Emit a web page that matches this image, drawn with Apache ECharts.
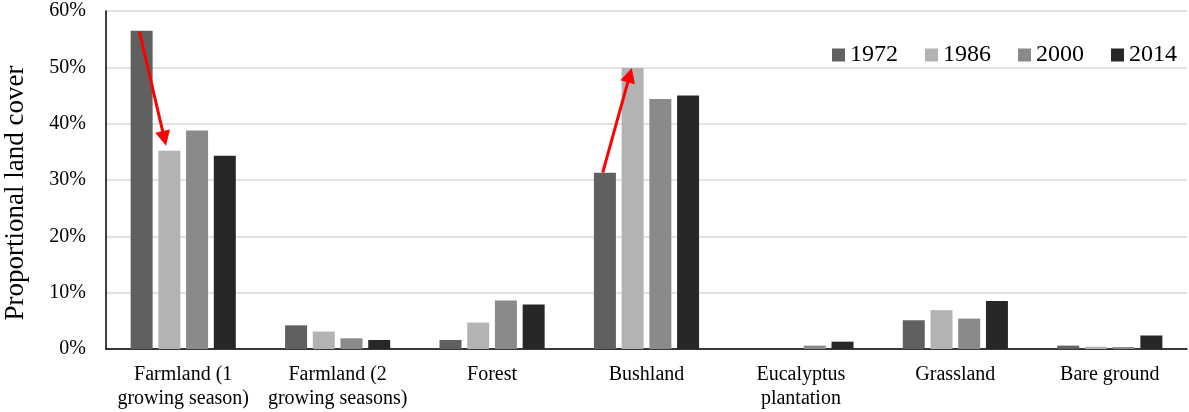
<!DOCTYPE html>
<html>
<head>
<meta charset="utf-8">
<script src="https://cdn.jsdelivr.net/npm/echarts@6/dist/echarts.min.js"></script>
<style>
  html, body { margin: 0; padding: 0; background: #fff; }
  #chart { width: 1189px; height: 412px; }
</style>
</head>
<body>
<div id="chart"></div>
<script>
// ---- data ----
const categories = [
  'Farmland (1\ngrowing season)',
  'Farmland (2\ngrowing seasons)',
  'Forest',
  'Bushland',
  'Eucalyptus\nplantation',
  'Grassland',
  'Bare ground'
];
const seriesNames = ['1972', '1986', '2000', '2014'];
const values1972 = [56.5, 4.2, 1.6, 31.3, 0, 5.1, 0.6];
const values1986 = [35.2, 3.1, 4.7, 49.9, 0, 6.9, 0.4];
const values2000 = [38.8, 1.9, 8.6, 44.4, 0.6, 5.4, 0.35];
const values2014 = [34.3, 1.6, 7.9, 45.0, 1.3, 8.5, 2.4];
const yTicks = [0, 10, 20, 30, 40, 50, 60];
const yAxisTitle = 'Proportional land cover';
// arrows: from [category, series] to [category, series]
const arrowLinks = [
  { from: [0, 0], to: [0, 1] },
  { from: [3, 0], to: [3, 1] }
];

// ---- styles ----
const FONT = "'Liberation Serif', 'Times New Roman', serif";
const colors = ['#606060', '#b3b3b3', '#8a8a8a', '#272727'];
const arrowStyle = [
  { fromFrac: 0.4, fromDy: 1, toFrac: 0.35, toDy: -5 },
  { fromFrac: 0.4, fromDy: 0, toFrac: 0.46, toDy: 0 }
];

const allValues = [values1972, values1986, values2000, values2014];
const chart = echarts.init(document.getElementById('chart'), null, { renderer: 'canvas' });

const option = {
  animation: false,
  backgroundColor: '#ffffff',
  color: colors,
  grid: { left: 106, right: 2, top: 11, bottom: 63 },
  legend: {
    data: seriesNames, right: 7, top: 38, itemWidth: 13, itemHeight: 13, itemGap: 27, icon: 'rect',
    textStyle: { fontFamily: FONT, fontSize: 24, color: '#000' }
  },
  xAxis: {
    type: 'category', data: categories,
    axisLine: { show: true, lineStyle: { color: '#000', width: 1.5 } },
    axisTick: { show: false },
    axisLabel: { interval: 0, margin: 14, fontFamily: FONT, fontSize: 20, lineHeight: 23.5, color: '#000' },
    splitLine: { show: false }
  },
  yAxis: {
    type: 'value', min: yTicks[0], max: yTicks[yTicks.length - 1], interval: yTicks[1] - yTicks[0],
    axisLine: { show: true, lineStyle: { color: '#000', width: 1.5 } },
    axisTick: { show: false },
    axisLabel: { margin: 20, fontFamily: FONT, fontSize: 20, color: '#000', formatter: '{value}%' },
    splitLine: { show: true, lineStyle: { color: '#d9d9d9', width: 1.5 } }
  },
  series: seriesNames.map((name, i) => ({
    name: name, type: 'bar', data: allValues[i], barWidth: 22, barGap: '26%', itemStyle: { color: colors[i] }
  }))
};
chart.setOption(option);

// ---- arrows drawn from the bars' own layout ----
function barTop(seriesIdx, catIdx) {
  const data = chart.getModel().getSeriesByIndex(seriesIdx).getData();
  const l = data.getItemLayout(catIdx);
  return { x: l.x, w: l.width, top: Math.min(l.y, l.y + l.height) };
}
const graphics = [];
arrowLinks.forEach((a, k) => {
  const st = arrowStyle[k];
  const b0 = barTop(a.from[1], a.from[0]);
  const b1 = barTop(a.to[1], a.to[0]);
  const x1 = b0.x + st.fromFrac * b0.w, y1 = b0.top + st.fromDy;
  const x2 = b1.x + st.toFrac * b1.w, y2 = b1.top + st.toDy;
  const dx = x2 - x1, dy = y2 - y1, len = Math.sqrt(dx * dx + dy * dy);
  const ux = dx / len, uy = dy / len;
  const headLen = 15, headHalf = 7.5;
  const bx = x2 - ux * headLen, by = y2 - uy * headLen;
  const px = -uy, py = ux;
  graphics.push({ type: 'line', shape: { x1: x1, y1: y1, x2: bx + ux, y2: by + uy }, style: { stroke: '#ff0000', lineWidth: 3 }, z: 100 });
  graphics.push({ type: 'polygon', shape: { points: [[x2, y2], [bx + px * headHalf, by + py * headHalf], [bx - px * headHalf, by - py * headHalf]] }, style: { fill: '#ff0000' }, z: 100 });
});
graphics.push({
  type: 'text', x: 15.5, y: 193, rotation: Math.PI / 2,
  style: { text: yAxisTitle, x: 0, y: 0, align: 'center', verticalAlign: 'middle', font: '27px ' + FONT, fill: '#000' }
});
chart.setOption({ graphic: graphics });
</script>
</body>
</html>
